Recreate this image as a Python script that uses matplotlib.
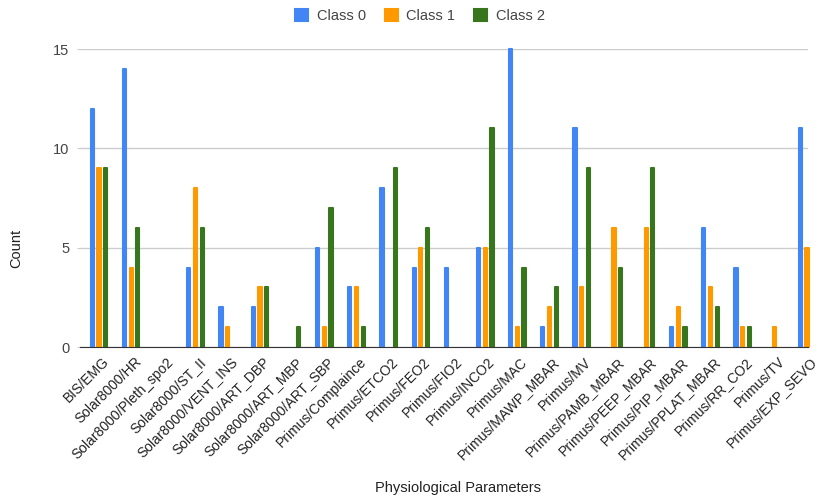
import numpy as np
import matplotlib.pyplot as plt
from matplotlib.transforms import ScaledTranslation

plt.rcParams['font.family'] = ['Liberation Sans', 'DejaVu Sans']

params = ["BIS/EMG", "Solar8000/HR", "Solar8000/Pleth_spo2", "Solar8000/ST_II",
          "Solar8000/VENT_INS", "Solar8000/ART_DBP", "Solar8000/ART_MBP",
          "Solar8000/ART_SBP", "Primus/Complaince", "Primus/ETCO2", "Primus/FEO2",
          "Primus/FIO2", "Primus/INCO2", "Primus/MAC", "Primus/MAWP_MBAR",
          "Primus/MV", "Primus/PAMB_MBAR", "Primus/PEEP_MBAR", "Primus/PIP_MBAR",
          "Primus/PPLAT_MBAR", "Primus/RR_CO2", "Primus/TV", "Primus/EXP_SEVO"]
class_0 = [12, 14, 0, 4, 2, 2, 0, 5, 3, 8, 4, 4, 5, 15, 1, 11, 0, 0, 1, 6, 4, 0, 11]
class_1 = [9, 4, 0, 8, 1, 3, 0, 1, 3, 0, 5, 0, 5, 1, 2, 3, 6, 6, 2, 3, 1, 1, 5]
class_2 = [9, 6, 0, 6, 0, 3, 1, 7, 1, 9, 6, 0, 11, 4, 3, 9, 4, 9, 1, 2, 1, 0, 0]

series = [class_0, class_1, class_2]
names = ["Class 0", "Class 1", "Class 2"]
colors = ["#4285F4", "#FF9900", "#38761D"]

fig = plt.figure(figsize=(8.22, 4.98), dpi=100)
ax = fig.add_axes([0.0973, 0.303, 0.8857, 0.5986])

x = np.arange(len(params))
step = 0.208
for i, (vals, name, col) in enumerate(zip(series, names, colors)):
    bars = ax.bar(x + (i - 1) * step, vals, width=0.1, color=col, label=name,
                  edgecolor=col, linewidth=1.5, zorder=3, clip_on=False)
    for b, v in zip(bars, vals):
        b.set_joinstyle("round")
        if v == 0:
            b.set_visible(False)

ax.set_xlim(-0.59, len(params) - 0.97)
ax.set_ylim(0, 15)
ax.set_yticks([0, 5, 10, 15])
ax.yaxis.grid(True, color="#cccccc", linewidth=1, zorder=0)
for s in ["top", "right", "left"]:
    ax.spines[s].set_visible(False)
ax.spines["bottom"].set_color("#333333")
ax.spines["bottom"].set_zorder(4)
ax.tick_params(axis="x", length=0)
ax.tick_params(axis="y", length=2.5, color="#cccccc", pad=5, labelcolor="#444444",
               labelsize=10.5)
ax.set_xticks(x)
ax.set_xticklabels(params, rotation=45, ha="right", rotation_mode="anchor",
                   fontsize=10, color="#222222")
shift = ScaledTranslation(2 / 72, -2 / 72, fig.dpi_scale_trans)
for lbl in ax.get_xticklabels():
    lbl.set_transform(lbl.get_transform() + shift)
ax.set_xlabel("Physiological Parameters", fontsize=10.5, color="#222222")
ax.set_ylabel("Count", fontsize=10.5, color="#222222")
ax.xaxis.set_label_coords(0.519, -0.45)
ax.yaxis.set_label_coords(-0.078, 0.33)

leg = ax.legend(loc="center", bbox_to_anchor=(0.467, 1.11), ncol=3, frameon=False,
                fontsize=10.5, handlelength=0.9, handleheight=0.9, columnspacing=1.25,
                handletextpad=0.6, labelcolor="#444444")

fig.savefig("out.png", dpi=100)
